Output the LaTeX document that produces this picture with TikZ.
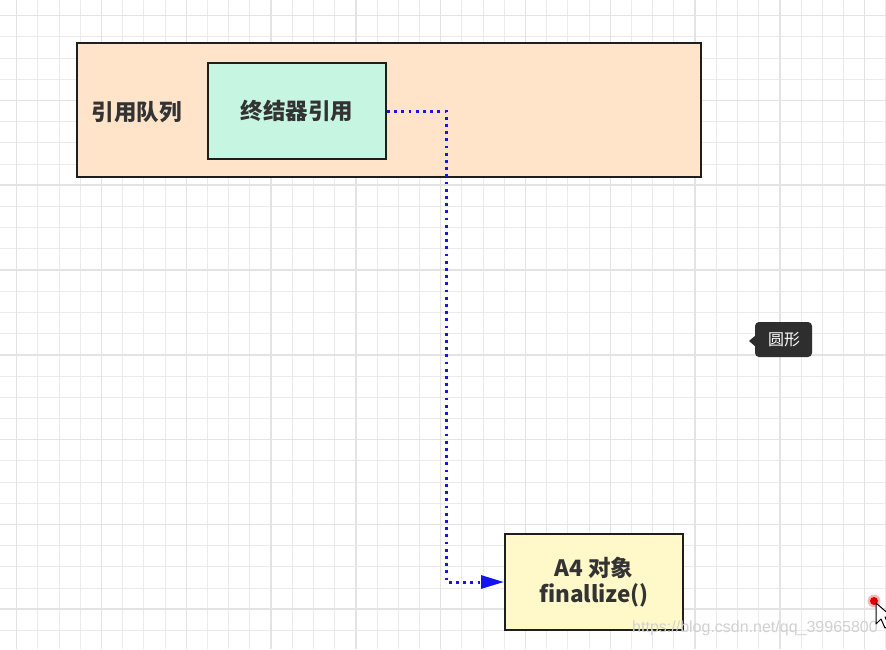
\documentclass[tikz,border=0pt]{standalone}
\usepackage{fontspec}
\setmainfont{Noto Sans CJK SC}
\newfontfamily\wmfont{Liberation Sans}
\usetikzlibrary{arrows.meta}
\definecolor{peach}{HTML}{FFE4CA}
\definecolor{mint}{HTML}{C6F5E2}
\definecolor{paleyellow}{HTML}{FFF9C9}
\definecolor{boxline}{HTML}{1E1E1E}
\definecolor{txt}{HTML}{333333}
\definecolor{gridminor}{HTML}{EBEBEB}
\definecolor{gridmajor}{HTML}{E3E3E3}
\definecolor{linkblue}{HTML}{1414F0}
\definecolor{tipbg}{HTML}{2E2E2E}
\begin{document}
\begin{tikzpicture}[x=1pt,y=-1pt,
  box/.style={draw=boxline,line width=2pt,inner sep=0pt,text=txt,font=\fontsize{22.5}{26}\selectfont\bfseries,align=center},
  plain/.style={inner sep=0pt,text=txt,font=\fontsize{22.5}{26}\selectfont\bfseries},
  conn/.style={draw=linkblue,line width=3pt,dash pattern=on 2.8pt off 4.4pt,-{Triangle[length=23pt,width=13pt,fill=linkblue]}}]
\useasboundingbox (0,0) rectangle (886,649);
\fill[white] (0,0) rectangle (886,649);
% grid
\foreach \k in {0,...,41} {
  \pgfmathsetmacro{\xx}{16.7+21.2*\k}
  \draw[gridminor,line width=1pt] (\xx,0) -- (\xx,649);
}
\foreach \k in {0,...,30} {
  \pgfmathsetmacro{\yy}{15.6+21.2*\k}
  \draw[gridminor,line width=1pt] (0,\yy) -- (886,\yy);
}
\foreach \k in {0,...,10} {
  \pgfmathsetmacro{\xx}{16.7+84.8*\k}
  \draw[gridmajor,line width=1.5pt] (\xx,0) -- (\xx,649);
}
\foreach \k in {0,...,7} {
  \pgfmathsetmacro{\yy}{15.6+84.8*\k}
  \draw[gridmajor,line width=1.5pt] (0,\yy) -- (886,\yy);
}
% boxes
\node[box,fill=peach,minimum width=624pt,minimum height=134pt] (queue) at (389,109.5) {};
\node[plain] (qlabel) at (136.5,112) {引用队列};
\node[box,fill=mint,minimum width=178pt,minimum height=96pt] (ref) at (297,111) {终结器引用};
\node[box,fill=paleyellow,minimum width=178pt,minimum height=96pt] (obj) at (594,582) {A4 对象\\finallize()};
% connector
\coordinate (turn) at (446,0);
\draw[conn] (ref.east) -- (ref.east -| turn) |- (obj.west);
% tooltip
\fill[tipbg,rounded corners=4pt] (755,322) rectangle (812,357);
\fill[tipbg] (756,335) -- (749,341) -- (756,347) -- cycle;
\node[inner sep=0pt,text=white,font=\fontsize{16}{18}\selectfont] (tip) at (784,340) {圆形};
% watermark
\node[inner sep=0pt,text=black!18,font=\wmfont\fontsize{16}{18}\selectfont] (wm) at (755,628) {https://blog.csdn.net/qq\_39965800};
% cursor
\fill[red!80!white,opacity=0.35] (874,601) circle (6.5);
\fill[red!85!black] (874,601) circle (4);
\draw[black,fill=white,line width=1pt,line join=round] (876,603) -- (876,624) -- (881,619) -- (885,628) -- (889,626) -- (885,617) -- (892,617) -- cycle;
\end{tikzpicture}
\end{document}
